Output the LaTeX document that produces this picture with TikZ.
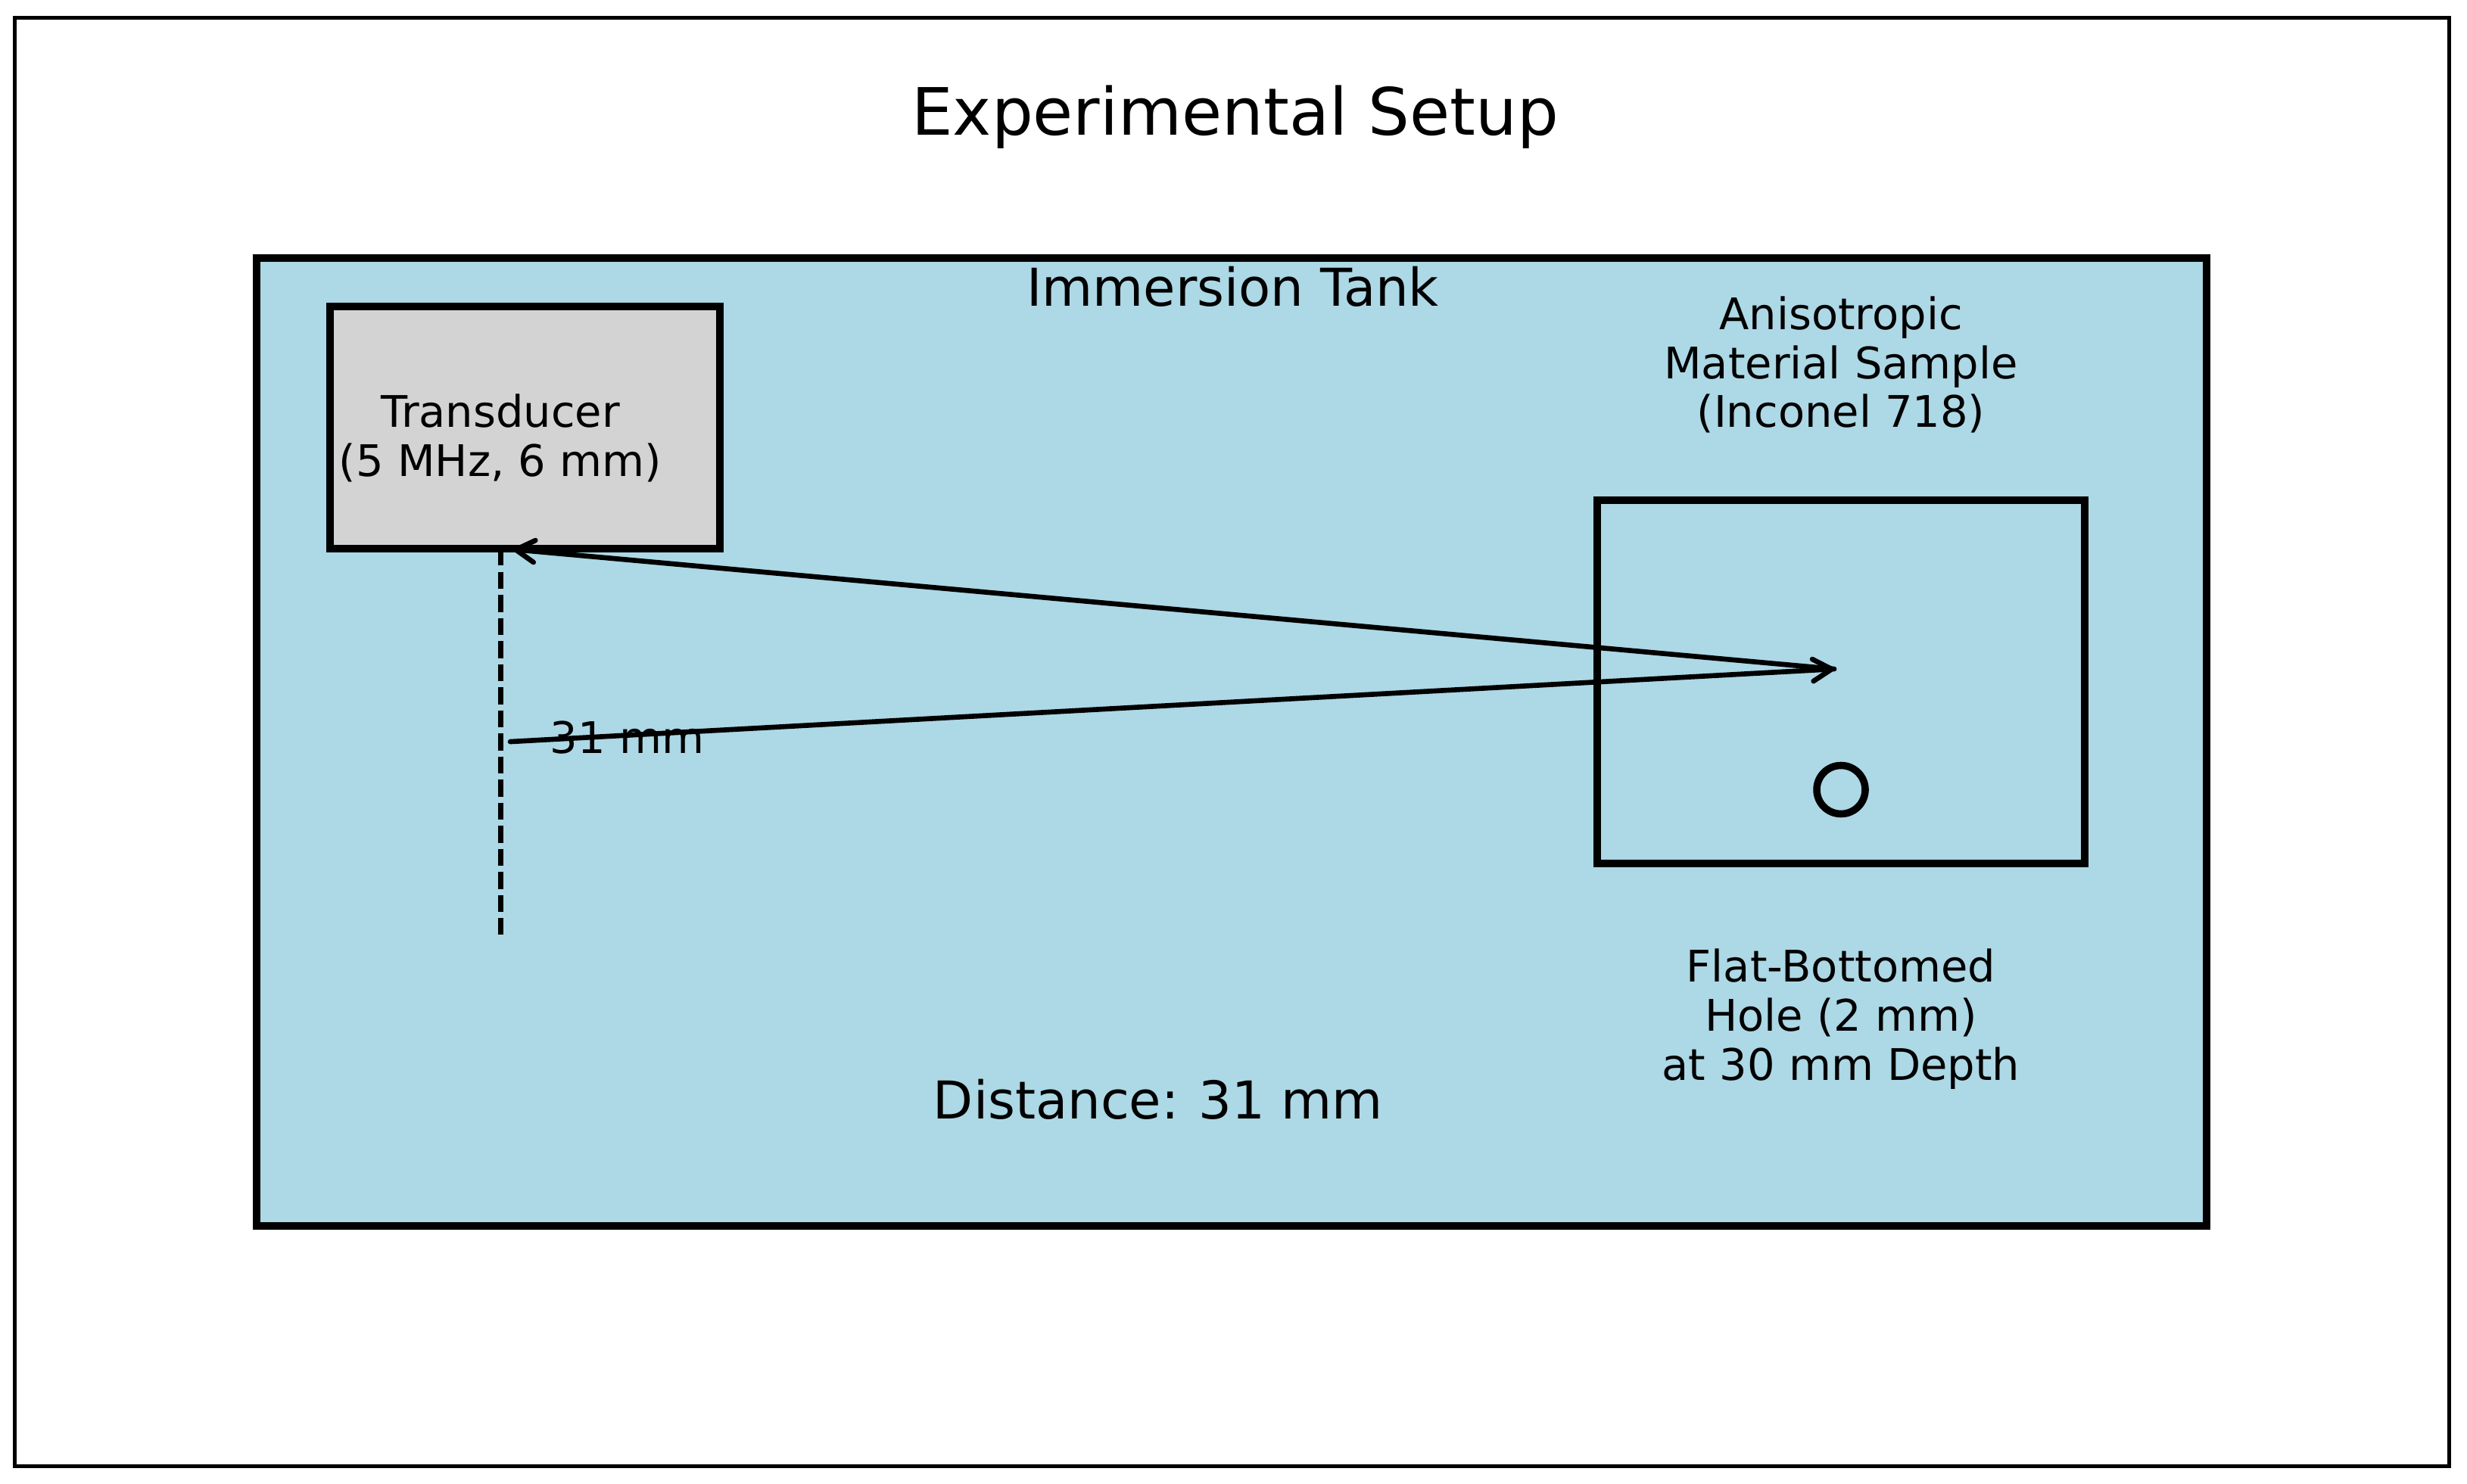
\documentclass[tikz,border=0pt]{standalone}
\usepackage{fontspec}
\setmainfont{DejaVu Sans}
\usetikzlibrary{arrows.meta}

\definecolor{tankblue}{HTML}{ADD8E6}
\definecolor{probegray}{HTML}{D3D3D3}

\begin{document}
\begin{tikzpicture}[
>={Straight Barb[length=6pt,width=7pt,round]},
framebox/.style={draw,rectangle,inner sep=0pt,outer sep=0pt,line width=1.2pt,minimum width=27.225cm,minimum height=16.206cm},
tankbox/.style={draw,fill=tankblue,rectangle,inner sep=0pt,outer sep=0pt,line width=2.4pt,minimum width=21.806cm,minimum height=10.828cm},
probebox/.style={draw,fill=probegray,rectangle,inner sep=0pt,outer sep=0pt,line width=2.4pt,minimum width=4.361cm,minimum height=2.710cm},
samplebox/.style={draw,rectangle,inner sep=0pt,outer sep=0pt,line width=2.4pt,minimum width=5.452cm,minimum height=4.060cm},
holemark/.style={draw,circle,inner sep=0pt,outer sep=0pt,line width=2.3pt,minimum size=0.542cm},
beam/.style={->,line width=1.6pt,line cap=round},
axisline/.style={line width=1.6pt,dash pattern=on 5.4pt off 1.95pt},
smalltxt/.style={anchor=base,inner sep=0pt,align=center,font=\fontsize{13.85}{15.55}\selectfont},
midtxt/.style={anchor=base,inner sep=0pt,font=\fontsize{16.6}{19}\selectfont},
titletxt/.style={anchor=base,inner sep=0pt,font=\fontsize{20.8}{24}\selectfont}]

\useasboundingbox (0,0) rectangle (27.593,16.595);

\draw (13.778,8.293) node[framebox] (border) {};
\draw (13.777,8.293) node[tankbox] (tank) {};
\draw (5.872,11.811) node[probebox] (probe) {};
\draw (20.591,8.968) node[samplebox] (sample) {};
\draw (20.591,7.760) node[holemark] (hole) {};

\draw (13.814,15.080) node[titletxt] (title) {Experimental Setup};
\draw (13.788,13.166) node[midtxt] (tanklabel) {Immersion Tank};
\draw (5.597,11.268) node[smalltxt] (probelabel) {Transducer\\(5 MHz, 6 mm)};
\draw (20.591,11.815) node[smalltxt] (samplelabel) {Anisotropic\\Material Sample\\(Inconel 718)};
\draw (20.591,4.513) node[smalltxt] (holelabel) {Flat-Bottomed\\Hole (2 mm)\\at 30 mm Depth};
\draw (7.015,8.170) node[smalltxt] (rangelabel) {31 mm};
\draw (12.954,4.081) node[midtxt] (distlabel) {Distance:\hspace{-0.05em} 31 mm};

\coordinate (axistop) at (5.601,10.456);
\coordinate (axisend) at (5.601,6.138);
\coordinate (focus) at (20.515,9.110);
\coordinate (echo) at (5.740,10.448);
\coordinate (launch) at (5.707,8.297);

\draw[axisline] (axistop) -- (axisend);
\draw[beam] (launch) -- (focus);
\draw[beam] (focus) -- (echo);
\end{tikzpicture}
\end{document}
